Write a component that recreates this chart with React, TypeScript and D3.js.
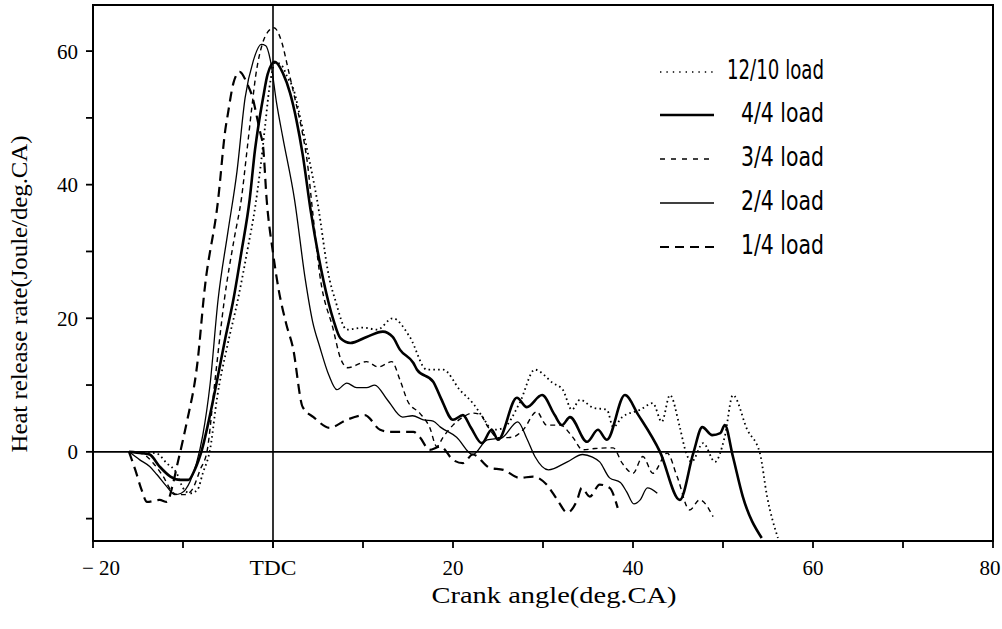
import React from 'react';
import * as d3 from 'd3';

// Heat release rate (Joule/deg.CA) vs crank angle (deg.CA)
const load1210: [number, number][] = [
  [-16, 0], [-13, -0.2], [-11.8, -1.7], [-10.7, -3.2], [-10, -5.4], [-9.2, -6.2], [-8.4, -5.7],
  [-7.8, -3.2], [-7, 0.3], [-6.2, 8.2], [-5.1, 15.7], [-3.9, 22.8], [-2.8, 30.5], [-2, 36.5],
  [-1.4, 42.5], [-0.9, 48.5], [-0.4, 54.5], [0.3, 58.3], [1, 57.8], [1.6, 56.1], [2.3, 54.2], [3, 50.2],
  [3.8, 45.2], [4.9, 37.7], [6.3, 25.7], [6.9, 22.8], [8.2, 18.3], [10, 18.6], [11.6, 18.3],
  [13.3, 20], [15.2, 17.2], [17.1, 12.3], [18.9, 12.3], [20.8, 9.2], [22.2, 7.3], [23.3, 5.2],
  [24.4, 3.3], [25.5, 3.5], [27.4, 7.3], [29.1, 12.3], [31.1, 10.3], [32.2, 9.3], [33.2, 6.3],
  [34.1, 7.8], [35.6, 6.6], [37.1, 6.3], [37.8, 3.7], [38.8, 5.2], [40.8, 6.3], [42.2, 7.3],
  [43.2, 4.5], [44.1, 8.5], [45.2, 3.7], [45.8, 0.3], [46.5, -1.5], [47.8, 1.3], [49.1, -1.5],
  [50.2, 2.3], [51.1, 8.5], [52.7, 3.3], [54.1, -0.2], [54.9, -6.7], [56.1, -12.9],
];

const load44: [number, number][] = [
  [-16, 0], [-14.5, -0.2], [-13.7, -0.4], [-12.6, -2.2], [-11.4, -3.7], [-10.3, -4.2], [-9.4, -4.2],
  [-8.7, -2.7], [-7.9, 0.3], [-7, 5.5], [-6.2, 10.8], [-5.3, 17], [-4.4, 22.8], [-3.5, 30],
  [-2.6, 37.7], [-2, 45.2], [-1.6, 49], [-1.1, 53], [-0.6, 56.5], [0.2, 58.4], [1.1, 56.7],
  [1.9, 53.7], [2.6, 49.7], [3.3, 44.5], [4.2, 36], [5.6, 25.7], [6.7, 19.8], [7.5, 17],
  [8.6, 16.3], [10.4, 17.2], [12.2, 18], [13.3, 17.2], [14.1, 15.3], [15.6, 13.3], [16, 12.3],
  [17.8, 10.5], [18.6, 8.2], [20, 4.8], [21.1, 5.5], [22, 3.6], [23.2, 1.3], [24.3, 3.3],
  [25, 1.8], [27.1, 8.1], [28.2, 6.7], [29.9, 8.5], [31.3, 5.5], [32.1, 4], [33, 5.2],
  [34.9, 1.5], [36.1, 3.3], [37.1, 1.8], [39.1, 8.5], [40.6, 5.5], [43, 0], [45.2, -7.2],
  [46.7, -0.2], [47.7, 3.7], [48.8, 2.5], [49.7, 2.8], [50.2, 4], [51.1, -0.7], [52.2, -6.7],
  [54.3, -12.9],
];

const load34: [number, number][] = [
  [-16, 0], [-14.5, -0.3], [-13.3, -1.7], [-12.2, -3.7], [-11.2, -6], [-10.6, -6.4], [-9.8, -6.4],
  [-9, -5.7], [-8.1, -2.7], [-7.3, 0.3], [-6.5, 10], [-5.4, 22.8], [-4.3, 32], [-3.5, 38],
  [-2.9, 45], [-2.4, 51], [-1.9, 56.5], [-1.2, 61], [-0.5, 63], [0.1, 63.5], [1, 61.2],
  [1.7, 57.2], [2.4, 53.1], [3.2, 48.2], [3.8, 43.5], [4.4, 36], [5.2, 26.5], [6.7, 18.3],
  [7.5, 14], [8.3, 12.6], [10.4, 13.5], [11.7, 12.7], [13.2, 13.5], [14.1, 10.8], [15, 7.5],
  [16.3, 5.8], [17.4, 3.7], [18.2, 0.8], [18.9, 2.2], [20, 4], [21.1, 5.2], [22.2, 5.8],
  [23, 5.6], [23.9, 3.7], [25, 2.1], [26.6, 2.2], [27.8, 3.3], [29.3, 6], [30.4, 4], [31.9, 4],
  [33.3, 2.2], [34.4, 0.3], [35.8, 0.5], [37.8, 0.6], [38.8, -1.7], [40, -3.2], [41.1, -0.7],
  [42.2, -3.2], [43.8, -0.2], [44.9, -3.7], [46.3, -8.7], [47.4, -7.2], [48.9, -9.7],
];

const load24: [number, number][] = [
  [-16, 0], [-14.8, -1.2], [-13.7, -2.2], [-12.9, -3.4], [-11.8, -5.2], [-10.9, -6.4], [-10.2, -6.2],
  [-9.2, -4.4], [-8.5, -1.7], [-7.8, 2.5], [-7, 10], [-6.1, 22.8], [-5, 33], [-4, 42], [-3.1, 53],
  [-2.2, 58.5], [-1.3, 61], [-0.8, 60.8], [-0.3, 58.7], [0.4, 52.2], [1.1, 47], [2.4, 37.7],
  [3.6, 25.7], [4.4, 19.5], [5.2, 15.7], [6.2, 11.5], [7.1, 9.3], [8.2, 10.3], [9.3, 9.6],
  [10.4, 9.6], [11.3, 10], [12.7, 7.8], [14.4, 5.2], [15.5, 5.4], [16.7, 4.8], [17.8, 4.6],
  [18.6, 3.7], [20.4, 2.2], [22.2, -0.4], [23.8, 1.8], [25.4, 2.1], [27.2, 4.5], [28.2, 2],
  [29.1, -0.7], [30.6, -2.7], [32.7, -1.5], [34.4, -0.4], [35.5, -0.8], [36.3, -1.5], [37.4, -3.9],
  [38.6, -4.6], [39.3, -6], [40.1, -7.8], [40.8, -7.2], [41.6, -5.4], [42.7, -6.2],
];

const load14: [number, number][] = [
  [-16, 0], [-15.3, -2.7], [-14.6, -5.7], [-14, -7.5], [-12.6, -7.2], [-11.8, -7.5], [-11.1, -4.7],
  [-10.6, -1.7], [-10, 1.8], [-9.6, 4.3], [-8.4, 13.3], [-7.6, 24.3], [-6.1, 37.7], [-5.3, 48.2],
  [-5, 50.7], [-4.4, 55.2], [-3.7, 56.9], [-2.9, 55.2], [-2.2, 52.7], [-1.8, 50.2], [-1.4, 47.7],
  [-1.1, 45.7], [-0.7, 37.7], [0, 29.8], [0.6, 24.5], [1.5, 19], [2.2, 15.7], [3.3, 6.7],
  [4.5, 5.2], [6.3, 3.6], [8.2, 4.8], [10.2, 5.5], [11.9, 3.3], [13, 3], [15.6, 3], [16.3, 2.2],
  [17.4, 0.3], [18.6, 0.8], [20, -1.2], [21.1, -1.7], [22.2, -0.4], [24.1, -2.4], [25.6, -2.7],
  [27.4, -3.9], [28.9, -3.7], [30.4, -4.9], [31.6, -7.2], [32.7, -9.1], [33.8, -7.2], [34.3, -5.4],
  [35.2, -6.7], [36.3, -4.9], [37.4, -5.4], [38.3, -8.4],
];

const seriesNames = ['12/10 load', '4/4 load', '3/4 load', '2/4 load', '1/4 load'];
const seriesData = [load1210, load44, load34, load24, load14];
const xTickValues = [-20, -10, 0, 10, 20, 30, 40, 50, 60, 70, 80];
const xLabelValues = [-20, 0, 20, 40, 60, 80];
const xLabelTexts = ['− 20', 'TDC', '20', '40', '60', '80'];
const yTickValues = [-10, 0, 10, 20, 30, 40, 50, 60];
const yLabelValues = [0, 20, 40, 60];

const styles: { width: number; dash?: string; legendDash?: string }[] = [
  { width: 1.8, dash: '1.6 3.2', legendDash: '1.4 5' },
  { width: 2.6 },
  { width: 1.4, dash: '5 4', legendDash: '5 6' },
  { width: 1.3 },
  { width: 2.2, dash: '10 6', legendDash: '9 6' },
];

const SERIF = '"Liberation Serif", "Times New Roman", Times, serif';
const NARROW = '"Liberation Sans Narrow", "DejaVu Sans Condensed", "Arial Narrow", "Liberation Sans", sans-serif';

export default function App() {
  const left = 93, right = 993, top = 5, bottom = 541;
  const x = d3.scaleLinear().domain([-20, 80]).range([left, right]);
  const y = d3.scaleLinear().domain([-13.35, 66.9]).range([bottom, top]);
  const line = d3.line<[number, number]>().x(d => x(d[0])).y(d => y(d[1])).curve(d3.curveMonotoneX);

  const legendRows = [79, 122, 166, 210, 254];
  const legendLens = [97, 83, 83, 83, 83];

  return (
    <svg width={1002} height={629} style={{ position: 'absolute', left: 0, top: 0, background: '#fff' }}>
      <rect x={0} y={0} width={1002} height={629} fill="#fff" />
      {/* frame */}
      <rect x={left} y={top} width={right - left} height={bottom - top} fill="none" stroke="#000" strokeWidth={2} />
      {/* zero line and TDC line */}
      <line x1={left} x2={right} y1={y(0)} y2={y(0)} stroke="#000" strokeWidth={1.6} />
      <line x1={x(0)} x2={x(0)} y1={top} y2={bottom + 7} stroke="#000" strokeWidth={1.6} />
      {/* x ticks */}
      {xTickValues.map(v => (
        <line key={'xt' + v} x1={x(v)} x2={x(v)} y1={bottom} y2={bottom + 7} stroke="#000" strokeWidth={1.8} />
      ))}
      {xLabelValues.map((v, i) => (
        <text key={'xl' + v} x={x(v) + (v === -20 ? 8 : v === 80 ? -3 : 0)} y={575} textAnchor="middle" fontFamily={SERIF}
          fontSize={21} fill="#000" {...(v === 0 ? { textLength: 47, lengthAdjust: 'spacingAndGlyphs' } : {})}>
          {xLabelTexts[i]}
        </text>
      ))}
      {/* y ticks */}
      {yTickValues.map(v => (
        <line key={'yt' + v} x1={left - 7} x2={left} y1={y(v)} y2={y(v)} stroke="#000" strokeWidth={1.8} />
      ))}
      {yLabelValues.map(v => (
        <text key={'yl' + v} x={78} y={y(v) + 7.5} textAnchor="end" fontFamily={SERIF} fontSize={21} fill="#000">
          {v}
        </text>
      ))}
      {/* axis titles */}
      <text x={554} y={603} textAnchor="middle" fontFamily={SERIF} fontSize={23} fill="#000"
        textLength={245} lengthAdjust="spacingAndGlyphs">Crank angle(deg.CA)</text>
      <text transform="translate(27,294) rotate(-90)" textAnchor="middle" fontFamily={SERIF} fontSize={24}
        fill="#000" textLength={317} lengthAdjust="spacingAndGlyphs">Heat release rate(Joule/deg.CA)</text>
      {/* curves */}
      {seriesData.map((data, i) => (
        <path key={'s' + i} d={line(data) || ''} fill="none" stroke="#000"
          strokeWidth={styles[i].width} strokeDasharray={styles[i].dash} strokeLinejoin="round" />
      ))}
      {/* legend */}
      {seriesNames.map((name, i) => (
        <g key={'lg' + i}>
          <line x1={660} x2={714} y1={legendRows[i] - 7} y2={legendRows[i] - 7} stroke="#000"
            strokeWidth={i === 0 ? 1.3 : styles[i].width} strokeDasharray={styles[i].legendDash} />
          <text x={824} y={legendRows[i]} textAnchor="end" fontFamily={NARROW} fontSize={27} fill="#000"
            textLength={legendLens[i]} lengthAdjust="spacingAndGlyphs">{name}</text>
        </g>
      ))}
    </svg>
  );
}
